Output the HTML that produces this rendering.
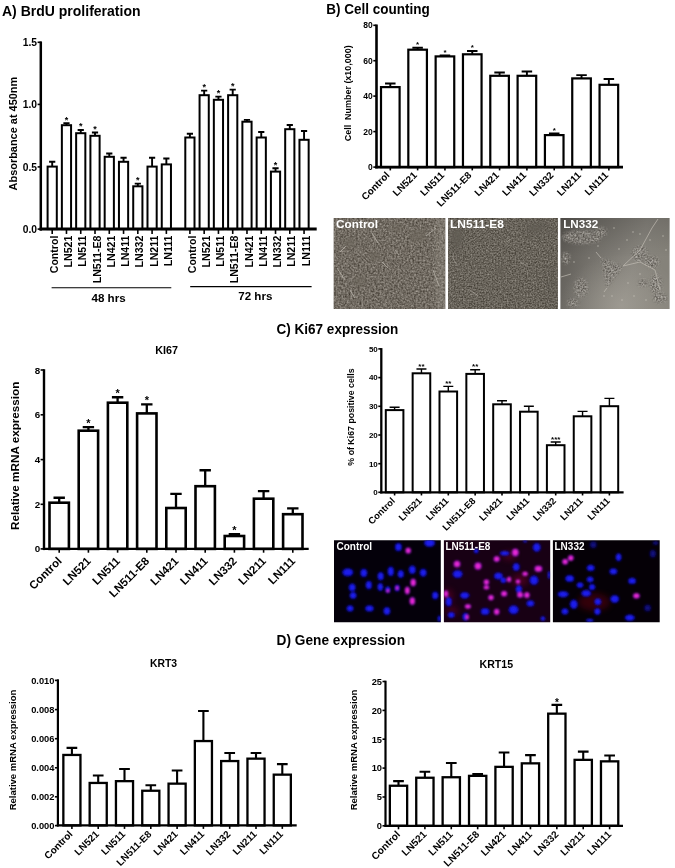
<!DOCTYPE html>
<html><head><meta charset="utf-8"><title>Figure</title>
<style>html,body{margin:0;padding:0;background:#fff}svg{display:block}text{font-family:'Liberation Sans', Arial, sans-serif;fill:#000}</style></head><body>
<svg width="675" height="868" viewBox="0 0 675 868">
<rect width="675" height="868" fill="#fff"/>
<defs>
<filter id="noiseA" x="0" y="0" width="100%" height="100%"><feTurbulence type="fractalNoise" baseFrequency="0.55" numOctaves="2" seed="3" result="n"/><feColorMatrix in="n" type="matrix" values="0 0 0 0 0  0 0 0 0 0  0 0 0 0 0  1.6 0 0 0 -0.55"/><feComposite in2="SourceGraphic" operator="in"/></filter>
<radialGradient id="gBlue"><stop offset="0" stop-color="#2626f4"/><stop offset="0.7" stop-color="#1616e4"/><stop offset="1" stop-color="#0c0cb8"/></radialGradient>
<radialGradient id="gMag"><stop offset="0" stop-color="#f436dc"/><stop offset="0.6" stop-color="#e020cc"/><stop offset="1" stop-color="#7a18c8"/></radialGradient>
<filter id="b1" x="-20%" y="-20%" width="140%" height="140%"><feGaussianBlur stdDeviation="0.9"/></filter>
<filter id="b2" x="-20%" y="-20%" width="140%" height="140%"><feGaussianBlur stdDeviation="6"/></filter>
<filter id="b5" x="-20%" y="-20%" width="140%" height="140%"><feGaussianBlur stdDeviation="0.5"/></filter>
<filter id="b3" x="-20%" y="-20%" width="140%" height="140%"><feGaussianBlur stdDeviation="3"/></filter>
<clipPath id="cB1"><rect x="333.8" y="218" width="111.4" height="91"/></clipPath>
<clipPath id="cB2"><rect x="448.2" y="218" width="109.6" height="91"/></clipPath>
<clipPath id="cB3"><rect x="560.4" y="218" width="109.2" height="91"/></clipPath>
<clipPath id="cF1"><rect x="334" y="540.3" width="106.8" height="82"/></clipPath>
<clipPath id="cF2"><rect x="443.9" y="540.3" width="106.3" height="82"/></clipPath>
<clipPath id="cF3"><rect x="552.9" y="540.3" width="106.8" height="82"/></clipPath>
</defs>
<text x="2" y="16.2" font-size="14" font-weight="bold" textLength="138.5" lengthAdjust="spacingAndGlyphs">A) BrdU proliferation</text>
<text x="326.2" y="13.6" font-size="14" font-weight="bold" textLength="103.5" lengthAdjust="spacingAndGlyphs">B) Cell counting</text>
<text x="276.6" y="334.2" font-size="14" font-weight="bold" textLength="121.6" lengthAdjust="spacingAndGlyphs">C) Ki67 expression</text>
<text x="276.6" y="645.1" font-size="14" font-weight="bold" textLength="128.4" lengthAdjust="spacingAndGlyphs">D) Gene expression</text>
<rect x="47.60" y="166.60" width="9.20" height="62.50" fill="#fff" stroke="#000" stroke-width="2.0"/>
<path d="M52.20 166.60V161.75M49.10 161.75H55.30" stroke="#000" stroke-width="1.9" fill="none"/>
<rect x="61.87" y="125.20" width="9.20" height="103.90" fill="#fff" stroke="#000" stroke-width="2.0"/>
<path d="M66.47 125.20V123.15M63.37 123.15H69.57" stroke="#000" stroke-width="1.9" fill="none"/>
<text x="66.47" y="122.60" font-size="9" text-anchor="middle" font-weight="bold">*</text>
<rect x="76.14" y="133.20" width="9.20" height="95.90" fill="#fff" stroke="#000" stroke-width="2.0"/>
<path d="M80.74 133.20V129.95M77.64 129.95H83.84" stroke="#000" stroke-width="1.9" fill="none"/>
<text x="80.74" y="129.40" font-size="9" text-anchor="middle" font-weight="bold">*</text>
<rect x="90.41" y="135.80" width="9.20" height="93.30" fill="#fff" stroke="#000" stroke-width="2.0"/>
<path d="M95.01 135.80V132.45M91.91 132.45H98.11" stroke="#000" stroke-width="1.9" fill="none"/>
<text x="95.01" y="131.90" font-size="9" text-anchor="middle" font-weight="bold">*</text>
<rect x="104.68" y="156.80" width="9.20" height="72.30" fill="#fff" stroke="#000" stroke-width="2.0"/>
<path d="M109.28 156.80V153.45M106.18 153.45H112.38" stroke="#000" stroke-width="1.9" fill="none"/>
<rect x="118.95" y="161.80" width="9.20" height="67.30" fill="#fff" stroke="#000" stroke-width="2.0"/>
<path d="M123.55 161.80V157.75M120.45 157.75H126.65" stroke="#000" stroke-width="1.9" fill="none"/>
<rect x="133.22" y="186.30" width="9.20" height="42.80" fill="#fff" stroke="#000" stroke-width="2.0"/>
<path d="M137.82 186.30V183.65M134.72 183.65H140.92" stroke="#000" stroke-width="1.9" fill="none"/>
<text x="137.82" y="183.10" font-size="9" text-anchor="middle" font-weight="bold">*</text>
<rect x="147.49" y="166.60" width="9.20" height="62.50" fill="#fff" stroke="#000" stroke-width="2.0"/>
<path d="M152.09 166.60V157.75M148.99 157.75H155.19" stroke="#000" stroke-width="1.9" fill="none"/>
<rect x="161.76" y="164.40" width="9.20" height="64.70" fill="#fff" stroke="#000" stroke-width="2.0"/>
<path d="M166.36 164.40V158.55M163.26 158.55H169.46" stroke="#000" stroke-width="1.9" fill="none"/>
<rect x="185.30" y="137.50" width="9.20" height="91.60" fill="#fff" stroke="#000" stroke-width="2.0"/>
<path d="M189.90 137.50V133.75M186.80 133.75H193.00" stroke="#000" stroke-width="1.9" fill="none"/>
<rect x="199.57" y="95.20" width="9.20" height="133.90" fill="#fff" stroke="#000" stroke-width="2.0"/>
<path d="M204.17 95.20V90.65M201.07 90.65H207.27" stroke="#000" stroke-width="1.9" fill="none"/>
<text x="204.17" y="90.10" font-size="9" text-anchor="middle" font-weight="bold">*</text>
<rect x="213.84" y="99.80" width="9.20" height="129.30" fill="#fff" stroke="#000" stroke-width="2.0"/>
<path d="M218.44 99.80V96.65M215.34 96.65H221.54" stroke="#000" stroke-width="1.9" fill="none"/>
<text x="218.44" y="96.10" font-size="9" text-anchor="middle" font-weight="bold">*</text>
<rect x="228.11" y="95.20" width="9.20" height="133.90" fill="#fff" stroke="#000" stroke-width="2.0"/>
<path d="M232.71 95.20V89.65M229.61 89.65H235.81" stroke="#000" stroke-width="1.9" fill="none"/>
<text x="232.71" y="89.10" font-size="9" text-anchor="middle" font-weight="bold">*</text>
<rect x="242.38" y="121.70" width="9.20" height="107.40" fill="#fff" stroke="#000" stroke-width="2.0"/>
<path d="M246.98 121.70V119.85M243.88 119.85H250.08" stroke="#000" stroke-width="1.9" fill="none"/>
<rect x="256.65" y="137.50" width="9.20" height="91.60" fill="#fff" stroke="#000" stroke-width="2.0"/>
<path d="M261.25 137.50V131.95M258.15 131.95H264.35" stroke="#000" stroke-width="1.9" fill="none"/>
<rect x="270.92" y="171.60" width="9.20" height="57.50" fill="#fff" stroke="#000" stroke-width="2.0"/>
<path d="M275.52 171.60V168.25M272.42 168.25H278.62" stroke="#000" stroke-width="1.9" fill="none"/>
<text x="275.52" y="167.70" font-size="9" text-anchor="middle" font-weight="bold">*</text>
<rect x="285.19" y="129.20" width="9.20" height="99.90" fill="#fff" stroke="#000" stroke-width="2.0"/>
<path d="M289.79 129.20V124.95M286.69 124.95H292.89" stroke="#000" stroke-width="1.9" fill="none"/>
<rect x="299.46" y="139.80" width="9.20" height="89.30" fill="#fff" stroke="#000" stroke-width="2.0"/>
<path d="M304.06 139.80V130.95M300.96 130.95H307.16" stroke="#000" stroke-width="1.9" fill="none"/>
<path d="M40.80 41.40V230.60" stroke="#000" stroke-width="2.5" fill="none"/>
<path d="M39.55 229.10H316.70" stroke="#000" stroke-width="3.0" fill="none"/>
<path d="M37.60 42.30H40.80" stroke="#000" stroke-width="1.6"/>
<text x="37.10" y="46.01" font-size="10.3" text-anchor="end" font-weight="bold">1.5</text>
<path d="M37.60 104.40H40.80" stroke="#000" stroke-width="1.6"/>
<text x="37.10" y="108.11" font-size="10.3" text-anchor="end" font-weight="bold">1.0</text>
<path d="M37.60 166.90H40.80" stroke="#000" stroke-width="1.6"/>
<text x="37.10" y="170.61" font-size="10.3" text-anchor="end" font-weight="bold">0.5</text>
<path d="M37.60 229.10H40.80" stroke="#000" stroke-width="1.6"/>
<text x="37.10" y="232.81" font-size="10.3" text-anchor="end" font-weight="bold">0.0</text>
<path d="M52.20 229.10V233.95" stroke="#000" stroke-width="1.6"/>
<path d="M66.47 229.10V233.95" stroke="#000" stroke-width="1.6"/>
<path d="M80.74 229.10V233.95" stroke="#000" stroke-width="1.6"/>
<path d="M95.01 229.10V233.95" stroke="#000" stroke-width="1.6"/>
<path d="M109.28 229.10V233.95" stroke="#000" stroke-width="1.6"/>
<path d="M123.55 229.10V233.95" stroke="#000" stroke-width="1.6"/>
<path d="M137.82 229.10V233.95" stroke="#000" stroke-width="1.6"/>
<path d="M152.09 229.10V233.95" stroke="#000" stroke-width="1.6"/>
<path d="M166.36 229.10V233.95" stroke="#000" stroke-width="1.6"/>
<path d="M189.90 229.10V233.95" stroke="#000" stroke-width="1.6"/>
<path d="M204.17 229.10V233.95" stroke="#000" stroke-width="1.6"/>
<path d="M218.44 229.10V233.95" stroke="#000" stroke-width="1.6"/>
<path d="M232.71 229.10V233.95" stroke="#000" stroke-width="1.6"/>
<path d="M246.98 229.10V233.95" stroke="#000" stroke-width="1.6"/>
<path d="M261.25 229.10V233.95" stroke="#000" stroke-width="1.6"/>
<path d="M275.52 229.10V233.95" stroke="#000" stroke-width="1.6"/>
<path d="M289.79 229.10V233.95" stroke="#000" stroke-width="1.6"/>
<path d="M304.06 229.10V233.95" stroke="#000" stroke-width="1.6"/>
<text transform="translate(57.80 235.60) rotate(-90)" font-size="10.6" text-anchor="end" font-weight="bold">Control</text>
<text transform="translate(72.07 235.60) rotate(-90)" font-size="10.6" text-anchor="end" font-weight="bold">LN521</text>
<text transform="translate(86.34 235.60) rotate(-90)" font-size="10.6" text-anchor="end" font-weight="bold">LN511</text>
<text transform="translate(100.61 235.60) rotate(-90)" font-size="10.6" text-anchor="end" font-weight="bold">LN511-E8</text>
<text transform="translate(114.88 235.60) rotate(-90)" font-size="10.6" text-anchor="end" font-weight="bold">LN421</text>
<text transform="translate(129.15 235.60) rotate(-90)" font-size="10.6" text-anchor="end" font-weight="bold">LN411</text>
<text transform="translate(143.42 235.60) rotate(-90)" font-size="10.6" text-anchor="end" font-weight="bold">LN332</text>
<text transform="translate(157.69 235.60) rotate(-90)" font-size="10.6" text-anchor="end" font-weight="bold">LN211</text>
<text transform="translate(171.96 235.60) rotate(-90)" font-size="10.6" text-anchor="end" font-weight="bold">LN111</text>
<text transform="translate(195.50 235.60) rotate(-90)" font-size="10.6" text-anchor="end" font-weight="bold">Control</text>
<text transform="translate(209.77 235.60) rotate(-90)" font-size="10.6" text-anchor="end" font-weight="bold">LN521</text>
<text transform="translate(224.04 235.60) rotate(-90)" font-size="10.6" text-anchor="end" font-weight="bold">LN511</text>
<text transform="translate(238.31 235.60) rotate(-90)" font-size="10.6" text-anchor="end" font-weight="bold">LN511-E8</text>
<text transform="translate(252.58 235.60) rotate(-90)" font-size="10.6" text-anchor="end" font-weight="bold">LN421</text>
<text transform="translate(266.85 235.60) rotate(-90)" font-size="10.6" text-anchor="end" font-weight="bold">LN411</text>
<text transform="translate(281.12 235.60) rotate(-90)" font-size="10.6" text-anchor="end" font-weight="bold">LN332</text>
<text transform="translate(295.39 235.60) rotate(-90)" font-size="10.6" text-anchor="end" font-weight="bold">LN211</text>
<text transform="translate(309.66 235.60) rotate(-90)" font-size="10.6" text-anchor="end" font-weight="bold">LN111</text>
<text transform="translate(16.90 133.60) rotate(-90)" font-size="10.7" text-anchor="middle" font-weight="bold" textLength="113.6" lengthAdjust="spacingAndGlyphs">Absorbance at 450nm</text>
<path d="M51.6 287.7H171.3M190.2 286.6H311.6" stroke="#000" stroke-width="1.1"/>
<text x="108.6" y="301.9" font-size="11.6" font-weight="bold" text-anchor="middle">48 hrs</text>
<text x="255.3" y="300.4" font-size="11.6" font-weight="bold" text-anchor="middle">72 hrs</text>
<rect x="381.00" y="87.10" width="18.60" height="80.00" fill="#fff" stroke="#000" stroke-width="2.2"/>
<path d="M390.30 87.10V83.45M385.05 83.45H395.55" stroke="#000" stroke-width="1.9" fill="none"/>
<rect x="408.32" y="49.70" width="18.60" height="117.40" fill="#fff" stroke="#000" stroke-width="2.2"/>
<path d="M417.62 49.70V47.75M412.37 47.75H422.87" stroke="#000" stroke-width="1.9" fill="none"/>
<text x="417.62" y="47.00" font-size="8" text-anchor="middle" font-weight="bold">*</text>
<rect x="435.64" y="56.40" width="18.60" height="110.70" fill="#fff" stroke="#000" stroke-width="2.2"/>
<path d="M444.94 56.40V55.45M439.69 55.45H450.19" stroke="#000" stroke-width="1.9" fill="none"/>
<text x="444.94" y="54.70" font-size="8" text-anchor="middle" font-weight="bold">*</text>
<rect x="462.96" y="54.30" width="18.60" height="112.80" fill="#fff" stroke="#000" stroke-width="2.2"/>
<path d="M472.26 54.30V50.95M467.01 50.95H477.51" stroke="#000" stroke-width="1.9" fill="none"/>
<text x="472.26" y="50.20" font-size="8" text-anchor="middle" font-weight="bold">*</text>
<rect x="490.28" y="75.80" width="18.60" height="91.30" fill="#fff" stroke="#000" stroke-width="2.2"/>
<path d="M499.58 75.80V72.45M494.33 72.45H504.83" stroke="#000" stroke-width="1.9" fill="none"/>
<rect x="517.60" y="75.80" width="18.60" height="91.30" fill="#fff" stroke="#000" stroke-width="2.2"/>
<path d="M526.90 75.80V71.45M521.65 71.45H532.15" stroke="#000" stroke-width="1.9" fill="none"/>
<rect x="544.92" y="135.10" width="18.60" height="32.00" fill="#fff" stroke="#000" stroke-width="2.2"/>
<path d="M554.22 135.10V133.35M548.97 133.35H559.47" stroke="#000" stroke-width="1.9" fill="none"/>
<text x="554.22" y="132.60" font-size="8" text-anchor="middle" font-weight="bold">*</text>
<rect x="572.24" y="78.40" width="18.60" height="88.70" fill="#fff" stroke="#000" stroke-width="2.2"/>
<path d="M581.54 78.40V75.15M576.29 75.15H586.79" stroke="#000" stroke-width="1.9" fill="none"/>
<rect x="599.56" y="84.80" width="18.60" height="82.30" fill="#fff" stroke="#000" stroke-width="2.2"/>
<path d="M608.86 84.80V79.05M603.61 79.05H614.11" stroke="#000" stroke-width="1.9" fill="none"/>
<path d="M376.50 24.50V168.40" stroke="#000" stroke-width="2.6" fill="none"/>
<path d="M375.20 167.10H623.00" stroke="#000" stroke-width="2.6" fill="none"/>
<path d="M373.30 25.30H376.50" stroke="#000" stroke-width="1.6"/>
<text x="372.80" y="28.36" font-size="8.5" text-anchor="end" font-weight="bold">80</text>
<path d="M373.30 60.70H376.50" stroke="#000" stroke-width="1.6"/>
<text x="372.80" y="63.76" font-size="8.5" text-anchor="end" font-weight="bold">60</text>
<path d="M373.30 96.10H376.50" stroke="#000" stroke-width="1.6"/>
<text x="372.80" y="99.16" font-size="8.5" text-anchor="end" font-weight="bold">40</text>
<path d="M373.30 131.60H376.50" stroke="#000" stroke-width="1.6"/>
<text x="372.80" y="134.66" font-size="8.5" text-anchor="end" font-weight="bold">20</text>
<path d="M373.30 167.10H376.50" stroke="#000" stroke-width="1.6"/>
<text x="372.80" y="170.16" font-size="8.5" text-anchor="end" font-weight="bold">0</text>
<path d="M390.30 167.10V170.40" stroke="#000" stroke-width="1.6"/>
<path d="M417.62 167.10V170.40" stroke="#000" stroke-width="1.6"/>
<path d="M444.94 167.10V170.40" stroke="#000" stroke-width="1.6"/>
<path d="M472.26 167.10V170.40" stroke="#000" stroke-width="1.6"/>
<path d="M499.58 167.10V170.40" stroke="#000" stroke-width="1.6"/>
<path d="M526.90 167.10V170.40" stroke="#000" stroke-width="1.6"/>
<path d="M554.22 167.10V170.40" stroke="#000" stroke-width="1.6"/>
<path d="M581.54 167.10V170.40" stroke="#000" stroke-width="1.6"/>
<path d="M608.86 167.10V170.40" stroke="#000" stroke-width="1.6"/>
<text transform="translate(390.30 175.90) rotate(-45)" font-size="9.9" text-anchor="end" font-weight="bold">Control</text>
<text transform="translate(417.62 175.90) rotate(-45)" font-size="9.9" text-anchor="end" font-weight="bold">LN521</text>
<text transform="translate(444.94 175.90) rotate(-45)" font-size="9.9" text-anchor="end" font-weight="bold">LN511</text>
<text transform="translate(472.26 175.90) rotate(-45)" font-size="9.9" text-anchor="end" font-weight="bold">LN511-E8</text>
<text transform="translate(499.58 175.90) rotate(-45)" font-size="9.9" text-anchor="end" font-weight="bold">LN421</text>
<text transform="translate(526.90 175.90) rotate(-45)" font-size="9.9" text-anchor="end" font-weight="bold">LN411</text>
<text transform="translate(554.22 175.90) rotate(-45)" font-size="9.9" text-anchor="end" font-weight="bold">LN332</text>
<text transform="translate(581.54 175.90) rotate(-45)" font-size="9.9" text-anchor="end" font-weight="bold">LN211</text>
<text transform="translate(608.86 175.90) rotate(-45)" font-size="9.9" text-anchor="end" font-weight="bold">LN111</text>
<text transform="translate(350.60 93.30) rotate(-90)" font-size="9.6" text-anchor="middle" font-weight="bold" textLength="96" lengthAdjust="spacingAndGlyphs">Cell&#160; Number (x10,000)</text>
<rect x="49.50" y="502.70" width="19.40" height="46.20" fill="#fff" stroke="#000" stroke-width="2.6"/>
<path d="M59.20 502.70V497.75M53.50 497.75H64.90" stroke="#000" stroke-width="2.3" fill="none"/>
<rect x="78.70" y="430.70" width="19.40" height="118.20" fill="#fff" stroke="#000" stroke-width="2.6"/>
<path d="M88.40 430.70V427.05M82.70 427.05H94.10" stroke="#000" stroke-width="2.3" fill="none"/>
<text x="88.40" y="426.90" font-size="11" text-anchor="middle" font-weight="bold">*</text>
<rect x="107.90" y="402.70" width="19.40" height="146.20" fill="#fff" stroke="#000" stroke-width="2.6"/>
<path d="M117.60 402.70V397.25M111.90 397.25H123.30" stroke="#000" stroke-width="2.3" fill="none"/>
<text x="117.60" y="397.10" font-size="11" text-anchor="middle" font-weight="bold">*</text>
<rect x="137.10" y="413.40" width="19.40" height="135.50" fill="#fff" stroke="#000" stroke-width="2.6"/>
<path d="M146.80 413.40V404.45M141.10 404.45H152.50" stroke="#000" stroke-width="2.3" fill="none"/>
<text x="146.80" y="404.30" font-size="11" text-anchor="middle" font-weight="bold">*</text>
<rect x="166.30" y="508.00" width="19.40" height="40.90" fill="#fff" stroke="#000" stroke-width="2.6"/>
<path d="M176.00 508.00V493.85M170.30 493.85H181.70" stroke="#000" stroke-width="2.3" fill="none"/>
<rect x="195.50" y="486.20" width="19.40" height="62.70" fill="#fff" stroke="#000" stroke-width="2.6"/>
<path d="M205.20 486.20V470.25M199.50 470.25H210.90" stroke="#000" stroke-width="2.3" fill="none"/>
<rect x="224.70" y="536.00" width="19.40" height="12.90" fill="#fff" stroke="#000" stroke-width="2.6"/>
<path d="M234.40 536.00V534.25M228.70 534.25H240.10" stroke="#000" stroke-width="2.3" fill="none"/>
<text x="234.40" y="534.10" font-size="11" text-anchor="middle" font-weight="bold">*</text>
<rect x="253.90" y="498.70" width="19.40" height="50.20" fill="#fff" stroke="#000" stroke-width="2.6"/>
<path d="M263.60 498.70V491.05M257.90 491.05H269.30" stroke="#000" stroke-width="2.3" fill="none"/>
<rect x="283.10" y="514.20" width="19.40" height="34.70" fill="#fff" stroke="#000" stroke-width="2.6"/>
<path d="M292.80 514.20V508.45M287.10 508.45H298.50" stroke="#000" stroke-width="2.3" fill="none"/>
<path d="M44.00 369.20V550.10" stroke="#000" stroke-width="2.4" fill="none"/>
<path d="M42.80 548.90H308.70" stroke="#000" stroke-width="2.4" fill="none"/>
<path d="M40.60 370.00H44.00" stroke="#000" stroke-width="1.6"/>
<text x="40.10" y="373.53" font-size="9.8" text-anchor="end" font-weight="bold">8</text>
<path d="M40.60 414.80H44.00" stroke="#000" stroke-width="1.6"/>
<text x="40.10" y="418.33" font-size="9.8" text-anchor="end" font-weight="bold">6</text>
<path d="M40.60 459.60H44.00" stroke="#000" stroke-width="1.6"/>
<text x="40.10" y="463.13" font-size="9.8" text-anchor="end" font-weight="bold">4</text>
<path d="M40.60 504.30H44.00" stroke="#000" stroke-width="1.6"/>
<text x="40.10" y="507.83" font-size="9.8" text-anchor="end" font-weight="bold">2</text>
<path d="M40.60 548.90H44.00" stroke="#000" stroke-width="1.6"/>
<text x="40.10" y="552.43" font-size="9.8" text-anchor="end" font-weight="bold">0</text>
<path d="M59.20 548.90V552.70" stroke="#000" stroke-width="1.6"/>
<path d="M88.40 548.90V552.70" stroke="#000" stroke-width="1.6"/>
<path d="M117.60 548.90V552.70" stroke="#000" stroke-width="1.6"/>
<path d="M146.80 548.90V552.70" stroke="#000" stroke-width="1.6"/>
<path d="M176.00 548.90V552.70" stroke="#000" stroke-width="1.6"/>
<path d="M205.20 548.90V552.70" stroke="#000" stroke-width="1.6"/>
<path d="M234.40 548.90V552.70" stroke="#000" stroke-width="1.6"/>
<path d="M263.60 548.90V552.70" stroke="#000" stroke-width="1.6"/>
<path d="M292.80 548.90V552.70" stroke="#000" stroke-width="1.6"/>
<text transform="translate(62.40 561.70) rotate(-45)" font-size="11.4" text-anchor="end" font-weight="bold">Control</text>
<text transform="translate(91.60 561.70) rotate(-45)" font-size="11.4" text-anchor="end" font-weight="bold">LN521</text>
<text transform="translate(120.80 561.70) rotate(-45)" font-size="11.4" text-anchor="end" font-weight="bold">LN511</text>
<text transform="translate(150.00 561.70) rotate(-45)" font-size="11.4" text-anchor="end" font-weight="bold">LN511-E8</text>
<text transform="translate(179.20 561.70) rotate(-45)" font-size="11.4" text-anchor="end" font-weight="bold">LN421</text>
<text transform="translate(208.40 561.70) rotate(-45)" font-size="11.4" text-anchor="end" font-weight="bold">LN411</text>
<text transform="translate(237.60 561.70) rotate(-45)" font-size="11.4" text-anchor="end" font-weight="bold">LN332</text>
<text transform="translate(266.80 561.70) rotate(-45)" font-size="11.4" text-anchor="end" font-weight="bold">LN211</text>
<text transform="translate(296.00 561.70) rotate(-45)" font-size="11.4" text-anchor="end" font-weight="bold">LN111</text>
<text transform="translate(18.50 455.80) rotate(-90)" font-size="11.7" text-anchor="middle" font-weight="bold">Relative mRNA expression</text>
<text x="166.6" y="353.5" font-size="10.8" font-weight="bold" text-anchor="middle">KI67</text>
<rect x="385.80" y="410.10" width="17.60" height="82.20" fill="#fff" stroke="#000" stroke-width="2.0"/>
<path d="M394.60 410.10V407.20M389.60 407.20H399.60" stroke="#000" stroke-width="1.4" fill="none"/>
<rect x="412.65" y="373.30" width="17.60" height="119.00" fill="#fff" stroke="#000" stroke-width="2.0"/>
<path d="M421.45 373.30V369.00M416.45 369.00H426.45" stroke="#000" stroke-width="1.4" fill="none"/>
<text x="421.45" y="368.60" font-size="8" text-anchor="middle" font-weight="bold">**</text>
<rect x="439.50" y="391.50" width="17.60" height="100.80" fill="#fff" stroke="#000" stroke-width="2.0"/>
<path d="M448.30 391.50V386.40M443.30 386.40H453.30" stroke="#000" stroke-width="1.4" fill="none"/>
<text x="448.30" y="386.00" font-size="8" text-anchor="middle" font-weight="bold">**</text>
<rect x="466.35" y="373.90" width="17.60" height="118.40" fill="#fff" stroke="#000" stroke-width="2.0"/>
<path d="M475.15 373.90V369.80M470.15 369.80H480.15" stroke="#000" stroke-width="1.4" fill="none"/>
<text x="475.15" y="369.40" font-size="8" text-anchor="middle" font-weight="bold">**</text>
<rect x="493.20" y="404.30" width="17.60" height="88.00" fill="#fff" stroke="#000" stroke-width="2.0"/>
<path d="M502.00 404.30V400.70M497.00 400.70H507.00" stroke="#000" stroke-width="1.4" fill="none"/>
<rect x="520.05" y="411.70" width="17.60" height="80.60" fill="#fff" stroke="#000" stroke-width="2.0"/>
<path d="M528.85 411.70V406.20M523.85 406.20H533.85" stroke="#000" stroke-width="1.4" fill="none"/>
<rect x="546.90" y="445.20" width="17.60" height="47.10" fill="#fff" stroke="#000" stroke-width="2.0"/>
<path d="M555.70 445.20V442.00M550.70 442.00H560.70" stroke="#000" stroke-width="1.4" fill="none"/>
<text x="555.70" y="441.60" font-size="8" text-anchor="middle" font-weight="bold">***</text>
<rect x="573.75" y="416.30" width="17.60" height="76.00" fill="#fff" stroke="#000" stroke-width="2.0"/>
<path d="M582.55 416.30V411.40M577.55 411.40H587.55" stroke="#000" stroke-width="1.4" fill="none"/>
<rect x="600.60" y="406.20" width="17.60" height="86.10" fill="#fff" stroke="#000" stroke-width="2.0"/>
<path d="M609.40 406.20V398.40M604.40 398.40H614.40" stroke="#000" stroke-width="1.4" fill="none"/>
<path d="M381.30 348.10V493.45" stroke="#000" stroke-width="2.3" fill="none"/>
<path d="M380.15 492.30H623.60" stroke="#000" stroke-width="2.3" fill="none"/>
<path d="M378.30 348.90H381.30" stroke="#000" stroke-width="1.6"/>
<text x="377.80" y="351.78" font-size="8" text-anchor="end" font-weight="bold">50</text>
<path d="M378.30 377.60H381.30" stroke="#000" stroke-width="1.6"/>
<text x="377.80" y="380.48" font-size="8" text-anchor="end" font-weight="bold">40</text>
<path d="M378.30 406.30H381.30" stroke="#000" stroke-width="1.6"/>
<text x="377.80" y="409.18" font-size="8" text-anchor="end" font-weight="bold">30</text>
<path d="M378.30 435.00H381.30" stroke="#000" stroke-width="1.6"/>
<text x="377.80" y="437.88" font-size="8" text-anchor="end" font-weight="bold">20</text>
<path d="M378.30 463.70H381.30" stroke="#000" stroke-width="1.6"/>
<text x="377.80" y="466.58" font-size="8" text-anchor="end" font-weight="bold">10</text>
<path d="M378.30 492.30H381.30" stroke="#000" stroke-width="1.6"/>
<text x="377.80" y="495.18" font-size="8" text-anchor="end" font-weight="bold">0</text>
<path d="M394.60 492.30V495.45" stroke="#000" stroke-width="1.6"/>
<path d="M421.45 492.30V495.45" stroke="#000" stroke-width="1.6"/>
<path d="M448.30 492.30V495.45" stroke="#000" stroke-width="1.6"/>
<path d="M475.15 492.30V495.45" stroke="#000" stroke-width="1.6"/>
<path d="M502.00 492.30V495.45" stroke="#000" stroke-width="1.6"/>
<path d="M528.85 492.30V495.45" stroke="#000" stroke-width="1.6"/>
<path d="M555.70 492.30V495.45" stroke="#000" stroke-width="1.6"/>
<path d="M582.55 492.30V495.45" stroke="#000" stroke-width="1.6"/>
<path d="M609.40 492.30V495.45" stroke="#000" stroke-width="1.6"/>
<text transform="translate(395.60 501.50) rotate(-45)" font-size="9.4" text-anchor="end" font-weight="bold">Control</text>
<text transform="translate(422.45 501.50) rotate(-45)" font-size="9.4" text-anchor="end" font-weight="bold">LN521</text>
<text transform="translate(449.30 501.50) rotate(-45)" font-size="9.4" text-anchor="end" font-weight="bold">LN511</text>
<text transform="translate(476.15 501.50) rotate(-45)" font-size="9.4" text-anchor="end" font-weight="bold">LN511-E8</text>
<text transform="translate(503.00 501.50) rotate(-45)" font-size="9.4" text-anchor="end" font-weight="bold">LN421</text>
<text transform="translate(529.85 501.50) rotate(-45)" font-size="9.4" text-anchor="end" font-weight="bold">LN411</text>
<text transform="translate(556.70 501.50) rotate(-45)" font-size="9.4" text-anchor="end" font-weight="bold">LN332</text>
<text transform="translate(583.55 501.50) rotate(-45)" font-size="9.4" text-anchor="end" font-weight="bold">LN211</text>
<text transform="translate(610.40 501.50) rotate(-45)" font-size="9.4" text-anchor="end" font-weight="bold">LN111</text>
<text transform="translate(353.60 417.00) rotate(-90)" font-size="8.8" text-anchor="middle" font-weight="bold">% of Ki67 positive cells</text>
<rect x="63.35" y="754.95" width="17.10" height="70.45" fill="#fff" stroke="#000" stroke-width="2.3"/>
<path d="M71.90 754.95V747.85M66.55 747.85H77.25" stroke="#000" stroke-width="2.1" fill="none"/>
<rect x="89.65" y="782.95" width="17.10" height="42.45" fill="#fff" stroke="#000" stroke-width="2.3"/>
<path d="M98.20 782.95V775.45M92.85 775.45H103.55" stroke="#000" stroke-width="2.1" fill="none"/>
<rect x="115.95" y="781.15" width="17.10" height="44.25" fill="#fff" stroke="#000" stroke-width="2.3"/>
<path d="M124.50 781.15V768.95M119.15 768.95H129.85" stroke="#000" stroke-width="2.1" fill="none"/>
<rect x="142.25" y="790.75" width="17.10" height="34.65" fill="#fff" stroke="#000" stroke-width="2.3"/>
<path d="M150.80 790.75V785.25M145.45 785.25H156.15" stroke="#000" stroke-width="2.1" fill="none"/>
<rect x="168.55" y="783.65" width="17.10" height="41.75" fill="#fff" stroke="#000" stroke-width="2.3"/>
<path d="M177.10 783.65V770.45M171.75 770.45H182.45" stroke="#000" stroke-width="2.1" fill="none"/>
<rect x="194.85" y="741.05" width="17.10" height="84.35" fill="#fff" stroke="#000" stroke-width="2.3"/>
<path d="M203.40 741.05V711.05M198.05 711.05H208.75" stroke="#000" stroke-width="2.1" fill="none"/>
<rect x="221.15" y="761.05" width="17.10" height="64.35" fill="#fff" stroke="#000" stroke-width="2.3"/>
<path d="M229.70 761.05V752.95M224.35 752.95H235.05" stroke="#000" stroke-width="2.1" fill="none"/>
<rect x="247.45" y="758.65" width="17.10" height="66.75" fill="#fff" stroke="#000" stroke-width="2.3"/>
<path d="M256.00 758.65V752.95M250.65 752.95H261.35" stroke="#000" stroke-width="2.1" fill="none"/>
<rect x="273.75" y="774.65" width="17.10" height="50.75" fill="#fff" stroke="#000" stroke-width="2.3"/>
<path d="M282.30 774.65V764.15M276.95 764.15H287.65" stroke="#000" stroke-width="2.1" fill="none"/>
<path d="M57.90 679.30V826.50" stroke="#000" stroke-width="2.2" fill="none"/>
<path d="M56.80 825.40H296.70" stroke="#000" stroke-width="2.2" fill="none"/>
<path d="M54.90 680.40H57.90" stroke="#000" stroke-width="1.6"/>
<text x="54.40" y="683.75" font-size="9.3" text-anchor="end" font-weight="bold">0.010</text>
<path d="M54.90 709.60H57.90" stroke="#000" stroke-width="1.6"/>
<text x="54.40" y="712.95" font-size="9.3" text-anchor="end" font-weight="bold">0.008</text>
<path d="M54.90 738.70H57.90" stroke="#000" stroke-width="1.6"/>
<text x="54.40" y="742.05" font-size="9.3" text-anchor="end" font-weight="bold">0.006</text>
<path d="M54.90 767.80H57.90" stroke="#000" stroke-width="1.6"/>
<text x="54.40" y="771.15" font-size="9.3" text-anchor="end" font-weight="bold">0.004</text>
<path d="M54.90 796.80H57.90" stroke="#000" stroke-width="1.6"/>
<text x="54.40" y="800.15" font-size="9.3" text-anchor="end" font-weight="bold">0.002</text>
<path d="M54.90 825.60H57.90" stroke="#000" stroke-width="1.6"/>
<text x="54.40" y="828.95" font-size="9.3" text-anchor="end" font-weight="bold">0.000</text>
<path d="M71.90 825.40V828.90" stroke="#000" stroke-width="1.6"/>
<path d="M98.20 825.40V828.90" stroke="#000" stroke-width="1.6"/>
<path d="M124.50 825.40V828.90" stroke="#000" stroke-width="1.6"/>
<path d="M150.80 825.40V828.90" stroke="#000" stroke-width="1.6"/>
<path d="M177.10 825.40V828.90" stroke="#000" stroke-width="1.6"/>
<path d="M203.40 825.40V828.90" stroke="#000" stroke-width="1.6"/>
<path d="M229.70 825.40V828.90" stroke="#000" stroke-width="1.6"/>
<path d="M256.00 825.40V828.90" stroke="#000" stroke-width="1.6"/>
<path d="M282.30 825.40V828.90" stroke="#000" stroke-width="1.6"/>
<text transform="translate(73.30 834.80) rotate(-45)" font-size="9.95" text-anchor="end" font-weight="bold">Control</text>
<text transform="translate(99.60 834.80) rotate(-45)" font-size="9.95" text-anchor="end" font-weight="bold">LN521</text>
<text transform="translate(125.90 834.80) rotate(-45)" font-size="9.95" text-anchor="end" font-weight="bold">LN511</text>
<text transform="translate(152.20 834.80) rotate(-45)" font-size="9.95" text-anchor="end" font-weight="bold">LN511-E8</text>
<text transform="translate(178.50 834.80) rotate(-45)" font-size="9.95" text-anchor="end" font-weight="bold">LN421</text>
<text transform="translate(204.80 834.80) rotate(-45)" font-size="9.95" text-anchor="end" font-weight="bold">LN411</text>
<text transform="translate(231.10 834.80) rotate(-45)" font-size="9.95" text-anchor="end" font-weight="bold">LN332</text>
<text transform="translate(257.40 834.80) rotate(-45)" font-size="9.95" text-anchor="end" font-weight="bold">LN211</text>
<text transform="translate(283.70 834.80) rotate(-45)" font-size="9.95" text-anchor="end" font-weight="bold">LN111</text>
<text transform="translate(15.70 750.00) rotate(-90)" font-size="9.5" text-anchor="middle" font-weight="bold">Relative mRNA expression</text>
<text x="163.6" y="667.3" font-size="10.4" font-weight="bold" text-anchor="middle">KRT3</text>
<rect x="389.85" y="785.75" width="17.30" height="40.05" fill="#fff" stroke="#000" stroke-width="2.3"/>
<path d="M398.50 785.75V781.15M393.15 781.15H403.85" stroke="#000" stroke-width="2.1" fill="none"/>
<rect x="416.24" y="777.75" width="17.30" height="48.05" fill="#fff" stroke="#000" stroke-width="2.3"/>
<path d="M424.89 777.75V771.75M419.54 771.75H430.24" stroke="#000" stroke-width="2.1" fill="none"/>
<rect x="442.63" y="777.25" width="17.30" height="48.55" fill="#fff" stroke="#000" stroke-width="2.3"/>
<path d="M451.28 777.25V762.95M445.93 762.95H456.63" stroke="#000" stroke-width="2.1" fill="none"/>
<rect x="469.02" y="775.85" width="17.30" height="49.95" fill="#fff" stroke="#000" stroke-width="2.3"/>
<path d="M477.67 775.85V773.95M472.32 773.95H483.02" stroke="#000" stroke-width="2.1" fill="none"/>
<rect x="495.41" y="766.85" width="17.30" height="58.95" fill="#fff" stroke="#000" stroke-width="2.3"/>
<path d="M504.06 766.85V752.45M498.71 752.45H509.41" stroke="#000" stroke-width="2.1" fill="none"/>
<rect x="521.80" y="763.35" width="17.30" height="62.45" fill="#fff" stroke="#000" stroke-width="2.3"/>
<path d="M530.45 763.35V755.15M525.10 755.15H535.80" stroke="#000" stroke-width="2.1" fill="none"/>
<rect x="548.19" y="713.65" width="17.30" height="112.15" fill="#fff" stroke="#000" stroke-width="2.3"/>
<path d="M556.84 713.65V704.85M551.49 704.85H562.19" stroke="#000" stroke-width="2.1" fill="none"/>
<text x="556.84" y="705.80" font-size="10" text-anchor="middle" font-weight="bold">*</text>
<rect x="574.58" y="759.85" width="17.30" height="65.95" fill="#fff" stroke="#000" stroke-width="2.3"/>
<path d="M583.23 759.85V751.65M577.88 751.65H588.58" stroke="#000" stroke-width="2.1" fill="none"/>
<rect x="600.97" y="761.35" width="17.30" height="64.45" fill="#fff" stroke="#000" stroke-width="2.3"/>
<path d="M609.62 761.35V755.45M604.27 755.45H614.97" stroke="#000" stroke-width="2.1" fill="none"/>
<path d="M385.50 680.70V826.90" stroke="#000" stroke-width="2.2" fill="none"/>
<path d="M384.40 825.80H623.00" stroke="#000" stroke-width="2.2" fill="none"/>
<path d="M382.50 681.50H385.50" stroke="#000" stroke-width="1.6"/>
<text x="382.00" y="684.85" font-size="9.3" text-anchor="end" font-weight="bold">25</text>
<path d="M382.50 710.40H385.50" stroke="#000" stroke-width="1.6"/>
<text x="382.00" y="713.75" font-size="9.3" text-anchor="end" font-weight="bold">20</text>
<path d="M382.50 739.20H385.50" stroke="#000" stroke-width="1.6"/>
<text x="382.00" y="742.55" font-size="9.3" text-anchor="end" font-weight="bold">15</text>
<path d="M382.50 768.10H385.50" stroke="#000" stroke-width="1.6"/>
<text x="382.00" y="771.45" font-size="9.3" text-anchor="end" font-weight="bold">10</text>
<path d="M382.50 797.00H385.50" stroke="#000" stroke-width="1.6"/>
<text x="382.00" y="800.35" font-size="9.3" text-anchor="end" font-weight="bold">5</text>
<path d="M382.50 825.80H385.50" stroke="#000" stroke-width="1.6"/>
<text x="382.00" y="829.15" font-size="9.3" text-anchor="end" font-weight="bold">0</text>
<path d="M398.50 825.80V829.30" stroke="#000" stroke-width="1.6"/>
<path d="M424.89 825.80V829.30" stroke="#000" stroke-width="1.6"/>
<path d="M451.28 825.80V829.30" stroke="#000" stroke-width="1.6"/>
<path d="M477.67 825.80V829.30" stroke="#000" stroke-width="1.6"/>
<path d="M504.06 825.80V829.30" stroke="#000" stroke-width="1.6"/>
<path d="M530.45 825.80V829.30" stroke="#000" stroke-width="1.6"/>
<path d="M556.84 825.80V829.30" stroke="#000" stroke-width="1.6"/>
<path d="M583.23 825.80V829.30" stroke="#000" stroke-width="1.6"/>
<path d="M609.62 825.80V829.30" stroke="#000" stroke-width="1.6"/>
<text transform="translate(400.80 835.10) rotate(-45)" font-size="10.1" text-anchor="end" font-weight="bold">Control</text>
<text transform="translate(427.19 835.10) rotate(-45)" font-size="10.1" text-anchor="end" font-weight="bold">LN521</text>
<text transform="translate(453.58 835.10) rotate(-45)" font-size="10.1" text-anchor="end" font-weight="bold">LN511</text>
<text transform="translate(479.97 835.10) rotate(-45)" font-size="10.1" text-anchor="end" font-weight="bold">LN511-E8</text>
<text transform="translate(506.36 835.10) rotate(-45)" font-size="10.1" text-anchor="end" font-weight="bold">LN421</text>
<text transform="translate(532.75 835.10) rotate(-45)" font-size="10.1" text-anchor="end" font-weight="bold">LN411</text>
<text transform="translate(559.14 835.10) rotate(-45)" font-size="10.1" text-anchor="end" font-weight="bold">LN332</text>
<text transform="translate(585.53 835.10) rotate(-45)" font-size="10.1" text-anchor="end" font-weight="bold">LN211</text>
<text transform="translate(611.92 835.10) rotate(-45)" font-size="10.1" text-anchor="end" font-weight="bold">LN111</text>
<text transform="translate(357.30 750.00) rotate(-90)" font-size="9.5" text-anchor="middle" font-weight="bold">Relative mRNA expression</text>
<text x="496.3" y="668.2" font-size="10.6" font-weight="bold" text-anchor="middle">KRT15</text>
<defs>
<filter id="nFine" x="0" y="0" width="100%" height="100%" color-interpolation-filters="sRGB"><feTurbulence type="fractalNoise" baseFrequency="0.55" numOctaves="2" seed="3" result="n"/><feColorMatrix in="n" type="matrix" values="0.5 0 0 0 0.195  0.5 0 0 0 0.17  0.5 0 0 0 0.135  0 0 0 0 1"/><feComposite in2="SourceGraphic" operator="in"/></filter>
<filter id="nFine2" x="0" y="0" width="100%" height="100%" color-interpolation-filters="sRGB"><feTurbulence type="fractalNoise" baseFrequency="0.66" numOctaves="2" seed="11" result="n"/><feColorMatrix in="n" type="matrix" values="0.46 0 0 0 0.18  0.46 0 0 0 0.16  0.46 0 0 0 0.125  0 0 0 0 1"/><feComposite in2="SourceGraphic" operator="in"/></filter>
<filter id="nSoft" x="0" y="0" width="100%" height="100%" color-interpolation-filters="sRGB"><feTurbulence type="fractalNoise" baseFrequency="0.5" numOctaves="2" seed="5" result="n"/><feColorMatrix in="n" type="matrix" values="0 0 0 0 1  0 0 0 0 1  0 0 0 0 1  0.9 0 0 0 -0.42"/><feComposite in2="SourceGraphic" operator="in"/></filter>
<filter id="nHi" x="0" y="0" width="100%" height="100%" color-interpolation-filters="sRGB"><feTurbulence type="fractalNoise" baseFrequency="0.6" numOctaves="2" seed="8" result="n"/><feColorMatrix in="n" type="matrix" values="0.75 0 0 0 0.15  0.75 0 0 0 0.135  0.75 0 0 0 0.11  0 0 0 0 1"/><feComposite in2="SourceGraphic" operator="in"/></filter>
<linearGradient id="gB3" x1="0" y1="0" x2="1" y2="0.25"><stop offset="0" stop-color="#5a5752"/><stop offset="0.35" stop-color="#73706a"/><stop offset="0.75" stop-color="#89867f"/><stop offset="1" stop-color="#85827a"/></linearGradient>
<linearGradient id="gB3c" x1="0" y1="0" x2="0" y2="1"><stop offset="0" stop-color="#000" stop-opacity="0.16"/><stop offset="1" stop-color="#000" stop-opacity="0"/></linearGradient>
<radialGradient id="gB3b" cx="0.55" cy="0.95" r="0.55"><stop offset="0" stop-color="#aaa69d" stop-opacity="0.6"/><stop offset="1" stop-color="#aaa69d" stop-opacity="0"/></radialGradient>
<mask id="mB3" maskUnits="userSpaceOnUse" x="560" y="217" width="111" height="93"><rect x="560" y="217" width="111" height="93" fill="#000"/><g fill="#c4c4c4" filter="url(#b4)">
<ellipse cx="582" cy="237" rx="20" ry="7"/><ellipse cx="601" cy="232" rx="6" ry="5"/>
<path d="M601 258L623 266L607 288Z"/><ellipse cx="610" cy="271" rx="7" ry="8"/>
<ellipse cx="640" cy="254" rx="8" ry="8"/><ellipse cx="652" cy="262" rx="7" ry="6"/><ellipse cx="656" cy="284" rx="6" ry="10"/><ellipse cx="660" cy="298" rx="7" ry="5"/><ellipse cx="643" cy="283" rx="5" ry="4"/>
<ellipse cx="581" cy="288" rx="7" ry="10"/><ellipse cx="566" cy="258" rx="4" ry="6"/><ellipse cx="573" cy="303" rx="6" ry="4"/>
</g></mask>
<filter id="b4" x="-30%" y="-30%" width="160%" height="160%"><feGaussianBlur stdDeviation="1.6"/></filter>
</defs>
<defs><mask id="mB1" maskUnits="userSpaceOnUse" x="333" y="217" width="113" height="93"><rect x="333" y="217" width="113" height="93" fill="#fff"/><g fill="#000" filter="url(#b4)" opacity="0.6"><ellipse cx="418" cy="236" rx="9" ry="6"/><ellipse cx="349" cy="243" rx="7" ry="5"/><ellipse cx="375" cy="256" rx="5" ry="5"/><ellipse cx="360" cy="281" rx="7" ry="5"/><ellipse cx="398" cy="228" rx="5" ry="4"/></g></mask>
<mask id="mB2" maskUnits="userSpaceOnUse" x="447" y="217" width="112" height="93"><rect x="447" y="217" width="112" height="93" fill="#fff"/><g fill="#000" filter="url(#b4)" opacity="0.7"><ellipse cx="457" cy="238" rx="5" ry="9"/><ellipse cx="536" cy="228" rx="8" ry="4"/><ellipse cx="500" cy="270" rx="4" ry="4"/></g></mask></defs>
<g clip-path="url(#cB1)"><rect x="333" y="217" width="113" height="93" fill="#6c665c"/>
<g mask="url(#mB1)"><rect x="333" y="217" width="113" height="93" fill="#7c766d" filter="url(#nFine)"/></g>
<rect x="436" y="217" width="10" height="93" fill="#b0aba2" opacity="0.25" filter="url(#b3)"/>
<g stroke="#cfcbc2" stroke-width="0.9" fill="none" opacity="0.65" filter="url(#b5)"><path d="M337 268l8 12M372 233l6 10M382 262l6 6M433 270l6 16M340 252l6 -6M426 236l10 -8M350 290l5 8M395 250l4 5"/></g>
</g>
<g clip-path="url(#cB2)"><rect x="447" y="217" width="112" height="93" fill="#645f56"/>
<g mask="url(#mB2)"><rect x="447" y="217" width="112" height="93" fill="#79736b" filter="url(#nFine2)"/></g>
<g filter="url(#b3)" fill="#5f5a53" opacity="0.3"><ellipse cx="455" cy="240" rx="8" ry="20"/><ellipse cx="540" cy="228" rx="14" ry="8"/><ellipse cx="552" cy="285" rx="6" ry="20"/></g>
<g stroke="#c9c5bc" stroke-width="0.8" fill="none" opacity="0.5" filter="url(#b5)"><path d="M452 256l5 10M470 290l8 6M520 262l8 4M505 243l6 -4"/></g>
</g>
<g clip-path="url(#cB3)"><rect x="560" y="217" width="111" height="93" fill="url(#gB3)"/><rect x="560" y="217" width="111" height="93" fill="url(#gB3b)"/>
<rect x="560" y="217" width="111" height="40" fill="url(#gB3c)"/>
<g mask="url(#mB3)"><rect x="560" y="217" width="111" height="93" fill="#888" filter="url(#nHi)"/></g>
<g stroke="#c4c0b7" stroke-width="0.9" fill="none" opacity="0.75" filter="url(#b5)"><path d="M623 266L640 250L652 228L658 219M623 266L640 262M601 258L596 252M607 288L604 292M561 277l10 -3M640 262L655 270L660 290"/></g>
<g fill="#c9c5bc" opacity="0.7"><circle cx="614" cy="228" r="0.8"/><circle cx="627" cy="240" r="0.8"/><circle cx="633" cy="232" r="0.8"/><circle cx="640" cy="234" r="0.8"/><circle cx="589" cy="258" r="0.8"/><circle cx="574" cy="262" r="0.8"/><circle cx="604" cy="296" r="0.8"/><circle cx="612" cy="296" r="0.8"/><circle cx="628" cy="283" r="0.8"/><circle cx="634" cy="296" r="0.8"/><circle cx="646" cy="300" r="0.8"/><circle cx="619" cy="249" r="0.8"/><circle cx="650" cy="240" r="0.8"/><circle cx="663" cy="236" r="0.8"/><circle cx="666" cy="250" r="0.8"/><circle cx="598" cy="246" r="0.8"/><circle cx="622" cy="300" r="0.8"/><circle cx="640" cy="274" r="0.8"/></g>
</g>
<text x="336" y="227.9" font-size="11.4" font-weight="bold" style="fill:#fff" textLength="42" lengthAdjust="spacingAndGlyphs">Control</text>
<text x="450" y="228.2" font-size="11.6" font-weight="bold" style="fill:#fff" textLength="54" lengthAdjust="spacingAndGlyphs">LN511-E8</text>
<text x="563.2" y="228.2" font-size="11.4" font-weight="bold" style="fill:#fff" textLength="35" lengthAdjust="spacingAndGlyphs">LN332</text>
<g clip-path="url(#cF1)"><rect x="333" y="539" width="109" height="85" fill="#04000a"/><g filter="url(#b1)">
<ellipse cx="398.4" cy="547.1" rx="3.5" ry="4.2" fill="url(#gBlue)" opacity="1.0"/><ellipse cx="429.6" cy="543.0" rx="5.6" ry="4.0" fill="url(#gBlue)" opacity="1.0"/><ellipse cx="347.8" cy="572.3" rx="5.6" ry="4.0" fill="url(#gBlue)" opacity="1.0"/><ellipse cx="363.8" cy="572.9" rx="3.5" ry="4.2" fill="url(#gBlue)" opacity="1.0"/><ellipse cx="380.7" cy="576.2" rx="3.2" ry="4.3" fill="url(#gBlue)" opacity="1.0"/><ellipse cx="390.8" cy="571.4" rx="3.2" ry="4.8" fill="url(#gBlue)" opacity="1.0"/><ellipse cx="400.8" cy="574.1" rx="3.2" ry="4.0" fill="url(#gBlue)" opacity="1.0"/><ellipse cx="412.3" cy="569.7" rx="3.5" ry="4.3" fill="url(#gBlue)" opacity="1.0"/><ellipse cx="423.2" cy="572.7" rx="3.5" ry="4.0" fill="url(#gBlue)" opacity="1.0"/><ellipse cx="352.2" cy="587.4" rx="3.5" ry="4.0" fill="url(#gBlue)" opacity="1.0"/><ellipse cx="368.8" cy="585.1" rx="3.2" ry="4.3" fill="url(#gBlue)" opacity="1.0"/><ellipse cx="380.3" cy="586.9" rx="2.9" ry="4.0" fill="url(#gBlue)" opacity="1.0"/><ellipse cx="387.8" cy="589.8" rx="2.7" ry="3.5" fill="url(#gBlue)" opacity="1.0"/><ellipse cx="397.2" cy="588.0" rx="2.7" ry="3.5" fill="url(#gBlue)" opacity="1.0"/><ellipse cx="353.1" cy="595.4" rx="3.5" ry="3.5" fill="url(#gBlue)" opacity="1.0"/><ellipse cx="435.2" cy="595.4" rx="3.2" ry="4.0" fill="url(#gBlue)" opacity="1.0"/><ellipse cx="350.1" cy="608.4" rx="3.5" ry="3.2" fill="url(#gBlue)" opacity="1.0"/><ellipse cx="369.5" cy="608.4" rx="4.3" ry="3.2" fill="url(#gBlue)" opacity="1.0"/><ellipse cx="386.9" cy="611.1" rx="3.5" ry="4.0" fill="url(#gBlue)" opacity="1.0"/><ellipse cx="439.3" cy="618.6" rx="1.6" ry="3.2" fill="url(#gBlue)" opacity="1.0"/>
<ellipse cx="408.2" cy="550.6" rx="2.9" ry="3.2" fill="url(#gMag)" opacity="1.0"/><ellipse cx="413.2" cy="582.6" rx="2.9" ry="4.0" fill="url(#gMag)" opacity="1.0"/><ellipse cx="407.3" cy="590.5" rx="2.6" ry="4.0" fill="url(#gMag)" opacity="1.0"/><ellipse cx="412.3" cy="601.1" rx="2.9" ry="4.0" fill="url(#gMag)" opacity="1.0"/><ellipse cx="387.8" cy="591.0" rx="1.6" ry="1.6" fill="url(#gMag)" opacity="1.0"/><ellipse cx="397.2" cy="588.0" rx="1.4" ry="1.9" fill="url(#gMag)" opacity="1.0"/>
</g></g>
<g clip-path="url(#cF2)"><rect x="443" y="539" width="109" height="85" fill="#180014"/><g filter="url(#b3)" fill="#6a0028" opacity="0.6"><ellipse cx="509" cy="556" rx="7" ry="4"/><ellipse cx="448" cy="596" rx="5" ry="7"/><ellipse cx="452" cy="611" rx="6" ry="4"/><ellipse cx="520" cy="580" rx="8" ry="6"/></g><g filter="url(#b1)">
<ellipse cx="536.7" cy="547.4" rx="4.0" ry="4.5" fill="url(#gBlue)" opacity="1.0"/><ellipse cx="504.7" cy="553.3" rx="4.8" ry="2.4" fill="url(#gBlue)" opacity="1.0"/><ellipse cx="516.2" cy="567.0" rx="3.5" ry="4.0" fill="url(#gBlue)" opacity="1.0"/><ellipse cx="457.6" cy="574.1" rx="5.1" ry="4.0" fill="url(#gBlue)" opacity="1.0"/><ellipse cx="498.4" cy="575.9" rx="4.5" ry="3.5" fill="url(#gBlue)" opacity="1.0"/><ellipse cx="503.4" cy="580.3" rx="2.9" ry="2.9" fill="url(#gBlue)" opacity="1.0"/><ellipse cx="534.0" cy="580.3" rx="4.5" ry="4.8" fill="url(#gBlue)" opacity="1.0"/><ellipse cx="518.9" cy="589.2" rx="3.2" ry="4.0" fill="url(#gBlue)" opacity="1.0"/><ellipse cx="464.7" cy="595.4" rx="4.8" ry="3.5" fill="url(#gBlue)" opacity="1.0"/><ellipse cx="530.4" cy="603.4" rx="4.0" ry="3.2" fill="url(#gBlue)" opacity="1.0"/><ellipse cx="448.7" cy="601.7" rx="3.2" ry="4.8" fill="url(#gBlue)" opacity="1.0"/><ellipse cx="513.6" cy="609.7" rx="5.1" ry="4.5" fill="url(#gBlue)" opacity="1.0"/><ellipse cx="485.1" cy="611.4" rx="4.5" ry="3.5" fill="url(#gBlue)" opacity="1.0"/><ellipse cx="451.3" cy="615.0" rx="3.5" ry="2.9" fill="url(#gBlue)" opacity="1.0"/><ellipse cx="465.6" cy="616.8" rx="3.2" ry="4.0" fill="url(#gBlue)" opacity="1.0"/><ellipse cx="476.2" cy="551.0" rx="2.4" ry="2.4" fill="url(#gBlue)" opacity="1.0"/><ellipse cx="542.9" cy="618.6" rx="2.4" ry="2.4" fill="url(#gBlue)" opacity="1.0"/><ellipse cx="549.1" cy="575.0" rx="1.3" ry="4.0" fill="url(#gBlue)" opacity="1.0"/><ellipse cx="525.1" cy="541.2" rx="1.9" ry="1.3" fill="url(#gBlue)" opacity="1.0"/>
<ellipse cx="515.3" cy="552.4" rx="3.5" ry="4.0" fill="url(#gMag)" opacity="1.0"/><ellipse cx="496.7" cy="559.0" rx="3.2" ry="2.9" fill="url(#gMag)" opacity="1.0"/><ellipse cx="457.0" cy="564.0" rx="3.5" ry="3.5" fill="url(#gMag)" opacity="1.0"/><ellipse cx="478.0" cy="566.1" rx="3.7" ry="3.8" fill="url(#gMag)" opacity="1.0"/><ellipse cx="538.4" cy="568.8" rx="4.0" ry="3.2" fill="url(#gMag)" opacity="1.0"/><ellipse cx="525.1" cy="573.8" rx="2.9" ry="2.4" fill="url(#gMag)" opacity="1.0"/><ellipse cx="509.1" cy="579.4" rx="2.2" ry="2.9" fill="url(#gMag)" opacity="1.0"/><ellipse cx="486.4" cy="582.1" rx="2.9" ry="2.9" fill="url(#gMag)" opacity="1.0"/><ellipse cx="518.0" cy="581.6" rx="2.4" ry="2.4" fill="url(#gMag)" opacity="1.0"/><ellipse cx="486.4" cy="587.4" rx="2.9" ry="2.2" fill="url(#gMag)" opacity="1.0"/><ellipse cx="504.1" cy="593.7" rx="3.2" ry="2.9" fill="url(#gMag)" opacity="1.0"/><ellipse cx="491.0" cy="597.6" rx="2.9" ry="2.9" fill="url(#gMag)" opacity="1.0"/><ellipse cx="520.1" cy="594.9" rx="3.2" ry="2.9" fill="url(#gMag)" opacity="1.0"/><ellipse cx="526.9" cy="595.1" rx="2.9" ry="3.2" fill="url(#gMag)" opacity="1.0"/><ellipse cx="467.9" cy="606.5" rx="3.2" ry="2.4" fill="url(#gMag)" opacity="1.0"/><ellipse cx="496.7" cy="611.8" rx="2.9" ry="3.2" fill="url(#gMag)" opacity="1.0"/><ellipse cx="446.0" cy="593.7" rx="2.4" ry="3.5" fill="url(#gMag)" opacity="1.0"/><ellipse cx="467.3" cy="617.1" rx="1.9" ry="2.4" fill="url(#gMag)" opacity="1.0"/>
</g></g>
<g clip-path="url(#cF3)"><rect x="552" y="539" width="109" height="85" fill="#050006"/>
<ellipse cx="594" cy="602" rx="16" ry="9" fill="#5a0010" filter="url(#b3)" opacity="0.55"/><g filter="url(#b1)">
<ellipse cx="618.6" cy="557.2" rx="2.9" ry="4.0" fill="url(#gBlue)" opacity="1.0"/><ellipse cx="590.7" cy="567.9" rx="4.0" ry="3.2" fill="url(#gBlue)" opacity="1.0"/><ellipse cx="613.4" cy="571.4" rx="4.0" ry="3.2" fill="url(#gBlue)" opacity="1.0"/><ellipse cx="569.7" cy="578.6" rx="4.5" ry="3.5" fill="url(#gBlue)" opacity="1.0"/><ellipse cx="590.1" cy="579.4" rx="3.5" ry="2.9" fill="url(#gBlue)" opacity="1.0"/><ellipse cx="632.1" cy="580.9" rx="4.0" ry="3.2" fill="url(#gBlue)" opacity="1.0"/><ellipse cx="580.0" cy="585.1" rx="3.5" ry="2.9" fill="url(#gBlue)" opacity="1.0"/><ellipse cx="592.1" cy="587.1" rx="3.2" ry="3.2" fill="url(#gBlue)" opacity="1.0"/><ellipse cx="563.1" cy="594.2" rx="5.6" ry="3.2" fill="url(#gBlue)" opacity="1.0"/><ellipse cx="586.2" cy="593.3" rx="5.1" ry="3.5" fill="url(#gBlue)" opacity="1.0"/><ellipse cx="614.7" cy="599.0" rx="4.5" ry="4.0" fill="url(#gBlue)" opacity="1.0"/><ellipse cx="597.8" cy="601.7" rx="3.5" ry="3.5" fill="url(#gBlue)" opacity="1.0"/><ellipse cx="573.8" cy="604.3" rx="4.0" ry="4.8" fill="url(#gBlue)" opacity="1.0"/><ellipse cx="564.9" cy="611.4" rx="3.5" ry="3.2" fill="url(#gBlue)" opacity="1.0"/><ellipse cx="597.4" cy="611.4" rx="3.2" ry="3.5" fill="url(#gBlue)" opacity="1.0"/><ellipse cx="629.8" cy="617.7" rx="5.1" ry="3.2" fill="url(#gBlue)" opacity="1.0"/><ellipse cx="589.8" cy="620.3" rx="4.0" ry="1.6" fill="url(#gBlue)" opacity="1.0"/>
<ellipse cx="593.3" cy="544.8" rx="3.5" ry="3.5" fill="url(#gBlue)" opacity="0.5"/><ellipse cx="655.6" cy="543.0" rx="2.9" ry="1.9" fill="url(#gBlue)" opacity="0.5"/><ellipse cx="652.9" cy="553.7" rx="3.2" ry="4.0" fill="url(#gBlue)" opacity="0.5"/><ellipse cx="647.6" cy="607.9" rx="3.5" ry="3.5" fill="url(#gBlue)" opacity="0.5"/>
<ellipse cx="565.1" cy="561.7" rx="3.0" ry="3.0" fill="url(#gMag)" opacity="1.0"/><ellipse cx="570.8" cy="558.1" rx="3.0" ry="3.0" fill="url(#gMag)" opacity="1.0"/><ellipse cx="636.4" cy="595.8" rx="3.5" ry="2.9" fill="url(#gMag)" opacity="1.0"/>
</g></g>
<text x="336.5" y="549.9" font-size="10.6" font-weight="bold" style="fill:#fff" textLength="35.6" lengthAdjust="spacingAndGlyphs">Control</text>
<text x="445.5" y="549.9" font-size="10.6" font-weight="bold" style="fill:#fff" textLength="44.8" lengthAdjust="spacingAndGlyphs">LN511-E8</text>
<text x="554.5" y="549.9" font-size="10.6" font-weight="bold" style="fill:#fff" textLength="30" lengthAdjust="spacingAndGlyphs">LN332</text>
</svg></body></html>
